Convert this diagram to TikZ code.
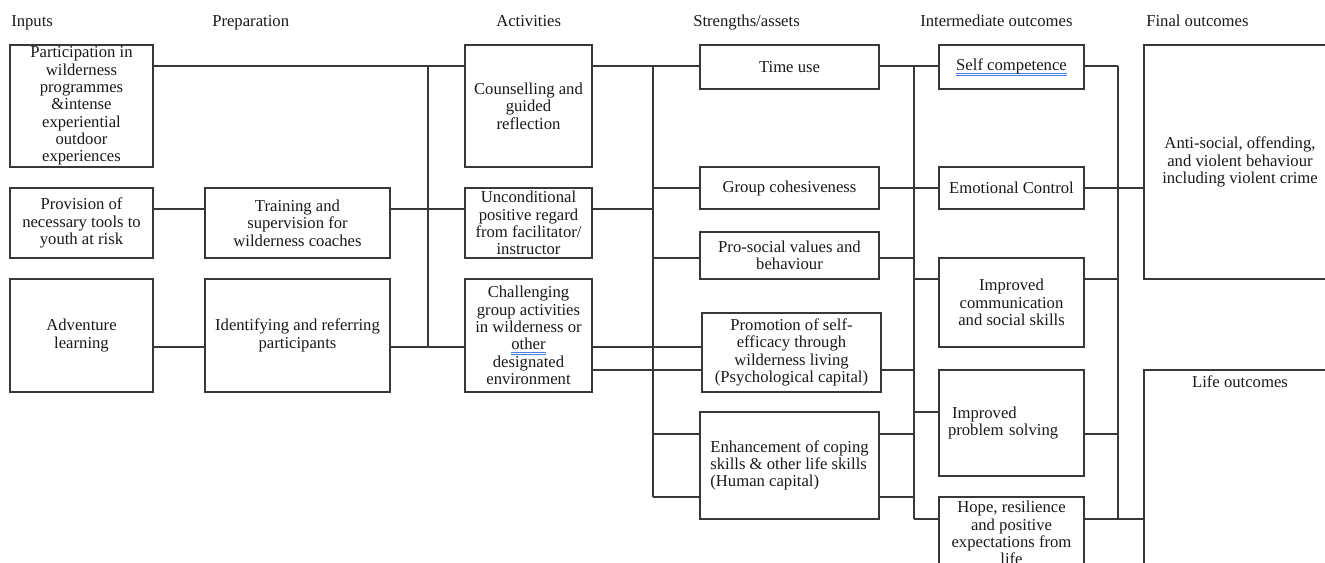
\documentclass[tikz,border=0pt]{standalone}
\usepackage{fontspec}
\setmainfont{Liberation Serif}
\definecolor{spellblue}{HTML}{4A7FD8}
\definecolor{inkline}{HTML}{383838}
\newcommand{\wordul}[1]{\leavevmode\sbox0{#1}%
  \rlap{\color{spellblue}\rule[-2.2pt]{\wd0}{0.5pt}}%
  \rlap{\color{spellblue}\rule[-3.6pt]{\wd0}{0.5pt}}\usebox0}

\begin{document}
\begin{tikzpicture} [
                x=0.75pt, y=-0.75pt,
                font=\fontsize{12.5}{13}\selectfont,
                box/.style = {draw=inkline, line width=1pt, align=center, inner sep=1pt, text=black!90},
                heading/.style = {anchor=base west, inner sep=0pt, text=black!90},
                link/.style = {draw=inkline, line width=1pt, -}
            ]
            \useasboundingbox (0,0) rectangle (1325,562);
            \clip (0,0) rectangle (1325,562);
            % First the column headings
            \foreach \x/\name/\txt in {11/hin/Inputs, 212/hprep/Preparation, 496/hact/Activities,
                                       693/hstr/{Strengths/assets}, 920/hint/{Intermediate outcomes}, 1146/hfin/{Final outcomes}}
                \node[heading] (\name) at (\x,26) {\txt};
            % Then the boxes
            \foreach \pos/\name/\w/\h/\txt in {
                {(81.5,106)/part/143/122/{Participation in\\wilderness\\programmes\\\&intense\\experiential\\outdoor\\experiences}},
                {(81.5,223)/prov/143/70/{Provision of\\necessary tools to\\youth at risk}},
                {(81.5,335.5)/adv/143/113/{Adventure\\learning}},
                {(297.5,223)/train/185/70/{Training and\\supervision for\\wilderness coaches}},
                {(297.5,335.5)/ident/185/113/{Identifying and referring\\participants}},
                {(528.5,106)/couns/127/122/{Counselling and\\guided\\reflection}},
                {(528.5,223)/uncond/127/70/{Unconditional\\positive regard\\from facilitator/\\instructor}},
                {(528.5,335.5)/chall/127/113/{Challenging\\group activities\\in wilderness or\\\wordul{other}\\designated\\environment}},
                {(789.5,67)/time/179/44/{Time use}},
                {(789.5,188)/group/179/42/{Group cohesiveness}},
                {(789.5,255.5)/prosoc/179/47/{Pro-social values and\\behaviour}},
                {(791.5,352.5)/promo/179/79/{Promotion of self-\\efficacy through\\wilderness living\\(Psychological capital)}},
                {(1011.5,67)/selfc/145/44/{\wordul{Self competence}}},
                {(1011.5,188)/emot/145/42/{Emotional Control}},
                {(1011.5,302.5)/comm/145/89/{Improved\\communication\\and social skills}},
                {(1011.5,533)/hope/145/72/{Hope, resilience\\and positive\\expectations from\\life}},
                {(1240,162)/anti/192/234/{Anti-social, offending,\\and violent behaviour\\including violent crime}}}
                \node[box, minimum width=\w*0.75pt, minimum height=\h*0.75pt] (\name) at \pos {\txt};
            \node[box, align=left, minimum width=134.25pt, minimum height=80.25pt] (enhance) at (789.5,465.5)
                {Enhancement of coping\\skills \& other life skills\\(Human capital)};
            \node[box, align=left, text width=95.25pt, inner xsep=6.75pt, minimum height=79.5pt] (prob) at (1011.5,423)
                {\hspace*{3pt}Improved\\problem solving};
            \node[box, minimum width=144pt, minimum height=195pt,
                  label={[anchor=north, inner sep=0pt, yshift=-4.5pt, text=black!90]north:Life outcomes}] (life) at (1240,500) {};
            % The vertical buses
            \foreach \x/\name in {428/busA, 653/busB, 914/busC, 1118/busD}
                \coordinate (\name) at (\x,0);
            \foreach \bus/\ya/\yb in {busA/66/347, busB/66/497, busC/66/519, busD/66/519}
                \path[link] (\bus |- 0,\ya) -- (\bus |- 0,\yb);
            % Connect boxes with each other and with the buses
            \foreach \source/\dest/\y in {part/couns/66, prov/train/209, train/uncond/209, adv/ident/347,
                                          ident/chall/347, couns/time/66, chall/promo/347, chall/promo/370,
                                          time/selfc/66, group/emot/188, emot/anti/188, hope/life/519}
                \path[link] (\source.east |- 0,\y) -- (\dest.west |- 0,\y);
            \foreach \source/\bus/\y in {uncond/busB/209, prosoc/busC/258, promo/busC/370, enhance/busC/434,
                                         enhance/busC/497, selfc/busD/66, comm/busD/279, prob/busD/434}
                \path[link] (\source.east |- 0,\y) -- (\bus |- 0,\y);
            \foreach \bus/\dest/\y in {busB/group/188, busB/prosoc/258, busB/enhance/434, busB/enhance/497,
                                       busC/comm/279, busC/prob/412, busC/hope/519}
                \path[link] (\bus |- 0,\y) -- (\dest.west |- 0,\y);
        \end{tikzpicture}
\end{document}
